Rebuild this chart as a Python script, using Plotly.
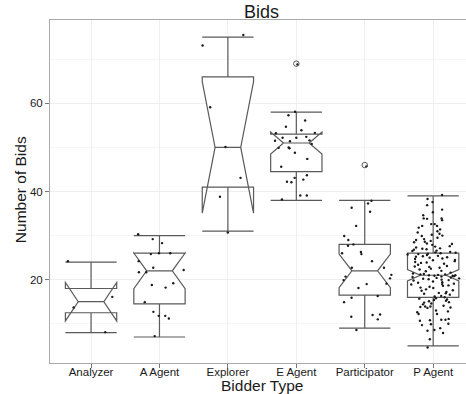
import plotly.graph_objects as go

categories = ["Analyzer", "A Agent", "Explorer", "E Agent", "Participator", "P Agent"]

# Notched box statistics per bidder type
q1 = [12.5, 14.5, 41.0, 44.5, 16.5, 16.0]
median = [15.0, 22.0, 50.0, 51.0, 22.0, 21.0]
q3 = [18.0, 26.0, 66.0, 53.0, 28.0, 26.0]
whisker_low = [8.0, 7.0, 31.0, 38.0, 9.0, 5.0]
whisker_high = [24.0, 30.0, 75.0, 58.0, 38.0, 39.0]
notch_span = [4.35, 4.05, 14.9, 2.5, 3.8, 1.3]

# Outliers flagged by the boxplot
outlier_type = ["E Agent", "Participator"]
outlier_bids = [69.0, 46.0]

# Individual observations (jittered)
analyzer_bids = [24.2, 16.1, 13.7, 8.1]
a_agent_bids = [30.3, 29.2, 28.3, 25.8, 26.0, 26.0, 24.2, 22.7, 22.2, 21.7,
                21.7, 19.2, 18.2, 18.8, 14.9, 12.7, 11.8, 11.2, 11.8, 7.2]
explorer_bids = [75.5, 73.1, 59.1, 50.1, 43.1, 38.8, 30.7]
e_agent_bids = [68.8, 58.1, 57.3, 56.1, 54.7, 53.9, 53.2, 53.3, 51.4, 51.6,
                51.5, 52.2, 52.2, 52.4, 50.8, 50.0, 49.9, 49.8, 48.8, 47.4,
                45.6, 43.1, 42.7, 43.7, 42.2, 42.1, 39.1, 39.1, 38.2]
participator_bids = [45.7, 37.9, 37.3, 35.4, 36.3, 32.2, 29.9, 29.0, 28.0, 27.7,
                     25.8, 26.0, 26.3, 24.2, 22.7, 22.7, 21.1, 20.3, 19.9, 20.7,
                     19.0, 19.1, 18.1, 16.3, 15.9, 14.9, 12.1, 11.0, 11.6, 12.0, 8.6]
p_agent_bids = [
    4.6, 6.5, 7.9, 9.0, 8.6, 8.4, 9.7, 10.0, 9.9, 10.9, 11.1, 10.8, 10.7, 10.9,
    12.2, 12.2, 12.8, 12.6, 13.0, 13.8, 13.9, 13.7, 14.1, 13.6, 13.9,
    14.4, 14.8, 15.2, 15.5, 15.1, 14.6, 15.8, 16.0, 15.4, 16.2, 14.9, 15.7, 16.3,
    16.6, 16.9, 17.2, 17.5, 17.0, 17.8, 16.8, 18.1, 18.4, 17.6, 18.9, 18.2, 18.6,
    19.0, 19.3, 18.7, 19.6, 19.8, 19.1, 20.2, 19.4, 20.5, 20.0, 20.8, 20.3, 20.6,
    19.9, 21.0, 20.9, 21.2, 20.4, 21.1, 20.7, 21.3, 20.1, 21.4, 20.9, 21.0, 21.2,
    21.6, 21.9, 22.3, 22.0, 22.7, 22.5, 23.1, 22.9, 23.4, 23.0, 23.8, 23.6, 24.2,
    23.9, 24.5, 24.0, 24.8, 24.4, 25.1, 24.7, 25.3, 25.0, 25.6, 25.2, 25.9, 25.4,
    26.2, 25.7, 26.0, 26.5, 25.8, 26.3, 26.8, 26.1, 27.0, 26.6, 26.9,
    27.3, 27.6, 27.1, 27.9, 28.2, 27.5, 28.5, 28.8, 28.1, 29.2, 29.0, 29.5, 29.9,
    30.0, 30.7, 31.0, 30.4, 31.8, 32.2, 32.2, 32.6, 32.6, 31.4, 33.8, 33.9, 33.9,
    33.5, 35.3, 34.6, 36.9, 35.9, 37.6, 38.3, 39.2, 30.2, 28.6,
]

y_ticks = [20, 40, 60]
y_minor = [10, 30, 50, 70]

groups = [analyzer_bids, a_agent_bids, explorer_bids, e_agent_bids,
          participator_bids, p_agent_bids]
pts_x = [cat for cat, g in zip(categories, groups) for _ in g]
pts_y = [v for g in groups for v in g]

LINE = "#5a5a5a"
TEXT = "#1a1a1a"
FONT = "Liberation Sans"

fig = go.Figure()

# Notched boxes with full-width whisker caps; median line spans half the box
fig.add_trace(go.Box(
    x=categories, q1=q1, median=median, q3=q3,
    lowerfence=whisker_low, upperfence=whisker_high,
    notched=True, notchspan=notch_span, notchwidth=0.25,
    width=0.75, whiskerwidth=1, boxpoints=False,
    fillcolor="white", line=dict(color=LINE, width=1.2),
    hoverinfo="skip", showlegend=False,
))

# Jittered raw observations (box itself hidden)
fig.add_trace(go.Box(
    x=pts_x, y=pts_y, boxpoints="all", jitter=1, pointpos=0, width=0.8,
    fillcolor="rgba(0,0,0,0)", line=dict(color="rgba(0,0,0,0)", width=0),
    marker=dict(color=TEXT, size=2.4),
    hoverinfo="skip", showlegend=False,
))

# Outliers as hollow circles
fig.add_trace(go.Scatter(
    x=outlier_type, y=outlier_bids, mode="markers",
    marker=dict(symbol="circle-open", size=5.5, color=LINE, line=dict(width=1)),
    hoverinfo="skip", showlegend=False,
))

fig.update_layout(
    width=466, height=394,
    margin=dict(l=50, r=0, t=20, b=31),
    plot_bgcolor="white", paper_bgcolor="white",
    boxmode="overlay",
    font=dict(family=FONT, color=TEXT),
    xaxis=dict(
        type="category", categoryorder="array", categoryarray=categories,
        range=[-0.6, 5.48],
        showgrid=True, gridcolor="#efefef", gridwidth=1,
        ticks="outside", ticklen=4, tickcolor="#777777", tickwidth=1,
        ticklabelstandoff=-6,
        tickfont=dict(size=11.5, color=TEXT),
        showline=True, linecolor="#aaaaaa", linewidth=1, mirror=True,
        zeroline=False,
    ),
    yaxis=dict(
        range=[1.1, 78.9],
        tickvals=y_ticks,
        showgrid=True, gridcolor="#efefef", gridwidth=1,
        minor=dict(tickvals=y_minor, showgrid=True, gridcolor="#f6f6f6", ticks=""),
        ticks="outside", ticklen=4, tickcolor="#777777", tickwidth=1,
        tickfont=dict(size=11.5, color=TEXT),
        showline=True, linecolor="#aaaaaa", linewidth=1, mirror=False,
        zeroline=False,
    ),
    annotations=[
        dict(text="Bids", x=0.5096, y=1.024, xref="paper", yref="paper",
             xanchor="center", yanchor="middle", showarrow=False,
             font=dict(size=18, color=TEXT)),
        dict(text="Bidder Type", x=0.5096, y=-0.066, xref="paper", yref="paper",
             xanchor="center", yanchor="middle", showarrow=False,
             font=dict(size=15.5, color=TEXT)),
        dict(text="Number of Bids", x=-0.072, y=0.504, xref="paper", yref="paper",
             xanchor="center", yanchor="middle", textangle=-90, showarrow=False,
             font=dict(size=15.5, color=TEXT)),
    ],
)

fig.write_html("out.html")
